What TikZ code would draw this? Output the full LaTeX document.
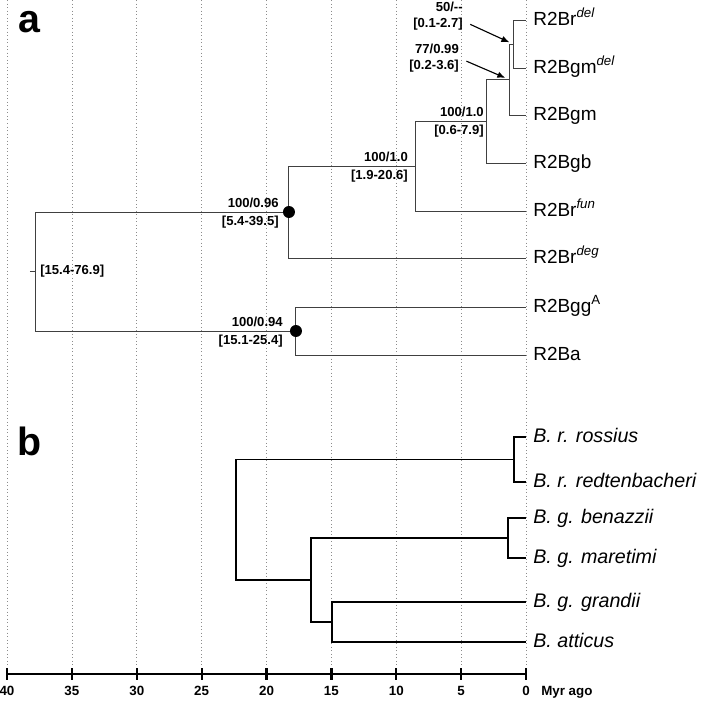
\documentclass[tikz,border=0pt]{standalone}
\usepackage{fontspec}
\setmainfont{Liberation Sans}
\usetikzlibrary{arrows.meta,positioning}
\tikzset{%
  >={Latex[width=1.6mm,length=2mm]},
  % Specifications for style of lines:
         grid/.style = {black!45, dotted, line width=0.5pt},
      brancha/.style = {black!75, line width=0.7pt},
      branchb/.style = {black, line width=1.4pt},
     timeaxis/.style = {black, line width=1.6pt},
      pointer/.style = {->, black, line width=0.8pt,
                        shorten <=2mm, shorten >=1mm},
  % Specifications for style of labels:
       tiplab/.style = {anchor=west, inner sep=0pt, inner xsep=1.75mm,
                        text height=0.72em, text depth=0pt,
                        font=\fontsize{13.5}{15}\selectfont},
      tiplabb/.style = {tiplab, font=\fontsize{14}{16}\selectfont\itshape},
         supp/.style = {inner sep=0pt, font=\fontsize{9.3}{11}\selectfont\bfseries},
      ticklab/.style = {inner sep=0pt, text height=0.72em, text depth=0.22em,
                        font=\fontsize{9.5}{11}\selectfont\bfseries},
     panelkey/.style = {anchor=base west, inner sep=0pt,
                        font=\fontsize{28}{30}\selectfont\bfseries},
}

\begin{document}
\begin{tikzpicture}[x={(-3.24375mm,0)}, y={(0,-0.25mm)}]
\useasboundingbox (40.54,0) rectangle (-13.41,701);

% time grid, in Myr
\foreach \t in {0,5,...,40}
  \draw[grid] (\t,0) -- (\t,674);

% a: gene tree
\node (pa)     [panelkey] at (39.15,33)   {a};

\coordinate (n50)   at (1.00,44);
\coordinate (n77)   at (1.31,79.5);
\coordinate (n100c) at (3.01,121);
\coordinate (n100b) at (8.55,166);
\coordinate (n096)  at (18.27,212);
\coordinate (n094)  at (17.73,331);
\coordinate (root)  at (37.84,271);
\coordinate (stem)  at (38.23,271);

\node (Brdel)  [tiplab] at (0,20)  {R2Br\textsuperscript{\itshape del}};

\node (Bgmdel) [tiplab] at (0,68)  {R2Bgm\textsuperscript{\itshape del}};

\node (Bgm)    [tiplab] at (0,115) {R2Bgm};

\node (Bgb)    [tiplab] at (0,163) {R2Bgb};

\node (Brfun)  [tiplab] at (0,211) {R2Br\textsuperscript{\itshape fun}};

\node (Brdeg)  [tiplab] at (0,258) {R2Br\textsuperscript{\itshape deg}};

\node (BggA)   [tiplab] at (0,307) {R2Bgg\textsuperscript{A}};

\node (Ba)     [tiplab] at (0,355) {R2Ba};

\draw[brancha] (n50) |- (Brdel.west);
\draw[brancha] (n50) |- (Bgmdel.west);
\draw[brancha] (n77) |- (n50);
\draw[brancha] (n77) |- (Bgm.west);
\draw[brancha] (n100c) |- (n77);
\draw[brancha] (n100c) |- (Bgb.west);
\draw[brancha] (n100b) |- (n100c);
\draw[brancha] (n100b) |- (Brfun.west);
\draw[brancha] (n096) |- (n100b);
\draw[brancha] (n096) |- (Brdeg.west);
\draw[brancha] (n094) |- (BggA.west);
\draw[brancha] (n094) |- (Ba.west);
\draw[brancha] (root) |- (n096);
\draw[brancha] (root) |- (n094);
\draw[brancha] (stem) -- (root);

\fill (n096) circle (1.5mm);
\fill (n094) circle (1.5mm);

% support values and age intervals
\node (s50)    [supp, align=right, anchor=east] at (4.86,16)  {50/{-}{-}\\{[0.1-2.7]}};

\node (s77)    [supp, align=right, anchor=east] at (5.16,58)  {77/0.99\\{[0.2-3.6]}};

\node (sc1)    [supp, above left=1mm and 0.75mm of n100c] {100/1.0};
\node (sc2)    [supp, below left=1mm and 0.75mm of n100c] {[0.6-7.9]};

\node (sb1)    [supp, above left=1mm and 1.75mm of n100b] {100/1.0};
\node (sb2)    [supp, below left=1mm and 1.75mm of n100b] {[1.9-20.6]};

\node (s961)   [supp, above left=1mm and 2.5mm of n096] {100/0.96};
\node (s962)   [supp, below left=1mm and 2.5mm of n096] {[5.4-39.5]};

\node (s941)   [supp, above left=1mm and 3.25mm of n094] {100/0.94};
\node (s942)   [supp, below left=1mm and 3.25mm of n094] {[15.1-25.4]};

\node (sroot)  [supp, right=1.25mm of root] {[15.4-76.9]};

\draw[pointer] ([yshift=-1.25mm]s50.east) -- (n50);
\draw[pointer] (s77.east) -- (n77);

% b: species tree
\node (pb)     [panelkey] at (39.23,455)  {b};

\coordinate (nb1) at (0.92,459.5);
\coordinate (nb2) at (1.39,538);
\coordinate (nb3) at (14.95,622);
\coordinate (nb4) at (16.57,580);
\coordinate (nb5) at (22.35,519.75);

\node (ross)   [tiplabb] at (0,437) {B. r. rossius};

\node (redt)   [tiplabb] at (0,482) {B. r. redtenbacheri};

\node (bena)   [tiplabb] at (0,518) {B. g. benazzii};

\node (mare)   [tiplabb] at (0,558) {B. g. maretimi};

\node (gran)   [tiplabb] at (0,602) {B. g. grandii};

\node (atti)   [tiplabb] at (0,642) {B. atticus};

\draw[branchb] (nb1) |- (ross.west);
\draw[branchb] (nb1) |- (redt.west);
\draw[branchb] (nb2) |- (bena.west);
\draw[branchb] (nb2) |- (mare.west);
\draw[branchb] (nb3) |- (gran.west);
\draw[branchb] (nb3) |- (atti.west);
\draw[branchb] (nb4) |- (nb2);
\draw[branchb] (nb4) |- (nb3);
\draw[branchb] (nb5) |- (nb1);
\draw[branchb] (nb5) |- (nb4);

% time axis
\draw[timeaxis] (40,674) -- (0,674);
\foreach \t in {0,5,...,40} {
  \draw[timeaxis] (\t,668) -- (\t,680);
  \node (tk\t) [ticklab] at (\t,692) {\t};
}
\node (unit)   [ticklab, right=2.75mm of tk0] {Myr ago};
\end{tikzpicture}
\end{document}
